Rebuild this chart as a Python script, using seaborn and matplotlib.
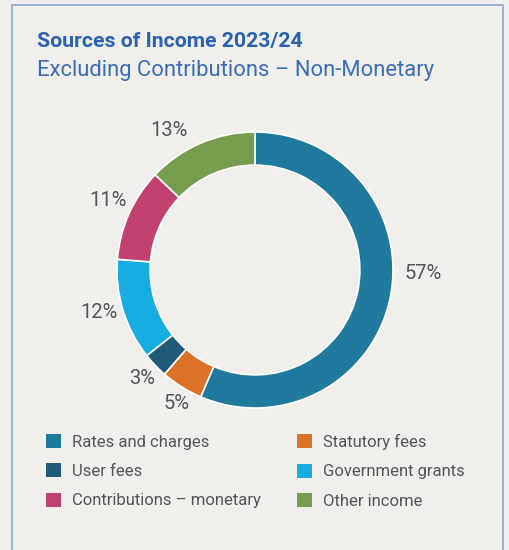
import numpy as np
import matplotlib
matplotlib.use("Agg")
import matplotlib.pyplot as plt
from matplotlib.patches import Rectangle, Patch
import seaborn as sns

# Income sources, clockwise from 12 o'clock
categories = ["Rates and charges", "Statutory fees", "User fees",
              "Government grants", "Contributions \u2013 monetary", "Other income"]
shares = [57, 5, 3, 12, 11, 13]
colors = ["#1f7a9d", "#dc7228", "#1f5b78", "#18ade0", "#c0416f", "#769c4e"]

title = "Sources of Income 2023/24"
subtitle = "Excluding Contributions \u2013 Non-Monetary"

BG = "#f0efec"
TEXT = "#555555"
BLUE = "#2c62ad"

sns.set_theme(style="white")
plt.rcParams["font.family"] = ["Roboto", "DejaVu Sans"]

W, H = 509, 550
fig = plt.figure(figsize=(W / 100, H / 100), dpi=100, facecolor=BG)

# panel frame
fig.patches.append(Rectangle((12 / W, -0.05), 491 / W, 1.05 - 5 / H,
                             transform=fig.transFigure, fill=False,
                             edgecolor="#98b3d9", linewidth=1.4))

fig.text(37 / W, 1 - 47 / H, title, color=BLUE, fontsize=15.3,
         fontweight="bold", va="baseline", ha="left")
fig.text(37 / W, 1 - 76 / H, subtitle, color="#3a6db6", fontsize=15.85,
         va="baseline", ha="left")

# donut
cx, cy, r = 255, 270, 138
ax = fig.add_axes([(cx - r) / W, (H - cy - r) / H, 2 * r / W, 2 * r / H])
ax.set_facecolor(BG)
wedges, _ = ax.pie(shares, colors=colors, startangle=90, counterclock=False,
                   wedgeprops=dict(width=0.24, edgecolor="white", linewidth=1.2))
ax.set_xlim(-1, 1)
ax.set_ylim(-1, 1)
ax.set_aspect("equal")
ax.axis("off")

# percentage labels: wedge mid-angle plus a small nudge (deg) and radius
label_nudge = [10.3, 1.7, 0.3, -1.8, -1.2, 8.4]
label_radius = [1.22, 1.125, 1.135, 1.17, 1.18, 1.19]
for w, v, dang, rr in zip(wedges, shares, label_nudge, label_radius):
    ang = np.deg2rad((w.theta1 + w.theta2) / 2 + dang)
    ax.text(rr * np.cos(ang), rr * np.sin(ang), f"{v}%", ha="center",
            va="center", fontsize=14.5, color=TEXT, clip_on=False)

# legend in two columns
order_left = [0, 2, 4]
order_right = [1, 3, 5]
def make_handles(idx):
    return [Patch(facecolor=colors[i], edgecolor="none") for i in idx]

common = dict(frameon=False, fontsize=12, labelcolor=TEXT, handlelength=0.9,
              handleheight=0.9, handletextpad=0.65, labelspacing=0.82,
              borderpad=0, borderaxespad=0, loc="upper left")
leg1 = fig.legend(make_handles(order_left), [categories[i] for i in order_left],
                  bbox_to_anchor=(46 / W, 1 - 434 / H), **common)
leg2 = fig.legend(make_handles(order_right), [categories[i] for i in order_right],
                  bbox_to_anchor=(297 / W, 1 - 434 / H), **common)

fig.savefig("out.png", dpi=100, facecolor=BG)
